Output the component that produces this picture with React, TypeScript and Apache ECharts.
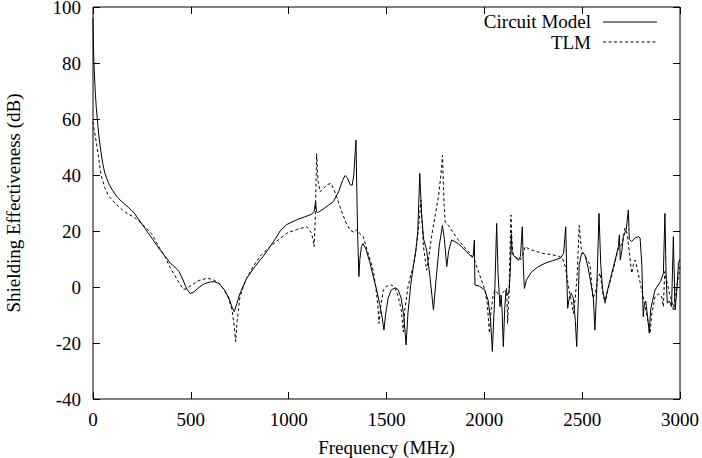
import React, { useEffect, useRef } from "react";
import * as echarts from "echarts";

// Shielding effectiveness (dB) vs frequency (MHz): [MHz, dB]
const circuitModel: [number, number][] = [
  [0, 96], [1, 91], [3, 84], [5, 80], [8, 75], [12, 69], [17, 64], [22, 60], [30, 54],
  [40, 48.5], [50, 44], [61, 40.5], [80, 37], [100, 34.5], [125, 32], [150, 30.3],
  [180, 28.5], [210, 26.5], [250, 22.5], [300, 17.5], [340, 13.5], [370, 10.8],
  [395, 8.5], [420, 7], [440, 5.5], [460, 2.5], [480, -0.8], [496, -2.3], [515, -1.8],
  [540, -0.2], [570, 1.2], [600, 1.8], [620, 1.9], [645, 1.2], [670, -0.8], [695, -4],
  [712, -7.5], [722, -8.8], [735, -6], [750, -2.5], [785, 3.1], [830, 7.5], [870, 11],
  [905, 14.4], [935, 17.5], [956, 20], [990, 22.3], [1041, 24], [1080, 25], [1118, 26],
  [1130, 27], [1138, 30.5], [1142, 27], [1147, 26.5], [1180, 28], [1228, 30.5],
  [1255, 34], [1275, 38], [1288, 39.8], [1300, 39], [1315, 36.5], [1325, 36.4],
  [1333, 40], [1344, 52.5], [1352, 20], [1359, 3.7], [1364, 10], [1372, 14.5],
  [1380, 15.5], [1395, 13.5], [1416, 8.5], [1435, 3], [1450, -1.1], [1465, -6],
  [1478, -11], [1487, -15.4], [1495, -10], [1508, -4], [1525, -1], [1545, -0.3],
  [1560, -1], [1575, -4], [1588, -10], [1600, -20.7], [1610, -9], [1625, 1.5],
  [1637, 7.3], [1650, 13], [1660, 20], [1670, 40.6], [1680, 25], [1690, 17],
  [1705, 13.2], [1720, 5], [1740, -8.2], [1755, 4], [1770, 15], [1786, 22], [1796, 17],
  [1808, 7.3], [1818, 13], [1833, 16.8], [1860, 15.8], [1884, 14.4], [1910, 12.5],
  [1935, 10.8], [1943, 11], [1949, 16.8], [1952, 0.7], [1975, 0.3], [2003, -1.1],
  [2020, -5], [2032, -12], [2041, -23], [2052, -5], [2063, 22.7], [2070, 5], [2080, -7],
  [2086, -3], [2091, -9], [2097, -21.3], [2104, -8], [2111, -1.1], [2118, -2.9],
  [2126, -2], [2133, 6], [2138, 19], [2142, 12], [2148, 11.4], [2160, 10.5],
  [2174, 9.6], [2185, 11], [2194, 21.5], [2200, 6], [2205, -0.5], [2215, 2.5],
  [2240, 5.3], [2270, 7], [2310, 8.5], [2350, 9.4], [2390, 10.4], [2405, 12],
  [2416, 21.5], [2422, 2], [2426, -7.6], [2435, -3.5], [2445, -2.3], [2455, -4],
  [2465, -12], [2472, -21.3], [2480, -5], [2485, 8], [2497, 12], [2506, 12],
  [2514, 11.5], [2530, 7], [2548, 0], [2557, -3.5], [2565, -15.4], [2575, 0],
  [2586, 26.3], [2595, 8], [2605, -1], [2617, -5.2], [2630, -1], [2651, 4.9],
  [2670, 10], [2685, 14.4], [2690, 18.6], [2695, 9.6], [2703, 13], [2710, 18],
  [2725, 20.4], [2736, 27.5], [2741, 17], [2753, 16.2], [2770, 17.5], [2787, 18],
  [2796, 17.5], [2805, 8], [2812, -10.6], [2818, -6], [2825, -5], [2835, -11],
  [2843, -16.5], [2850, -8], [2872, -1.1], [2900, 1.9], [2915, 4.9], [2923, 26.3],
  [2929, 4], [2935, -5.8], [2945, -5], [2957, -7], [2966, 18], [2972, 0], [2975, -8.2],
  [2985, 0], [2992, 8.5], [3000, 10],
];

const tlm: [number, number][] = [
  [0, 59], [5, 56.5], [15, 52.5], [25, 48], [41, 40], [60, 35.5], [80, 32.5],
  [112, 30], [150, 27.5], [180, 26], [210, 25], [250, 22.5], [300, 19], [340, 14],
  [368, 10.8], [390, 7.5], [415, 4.5], [440, 1.5], [461, -0.8], [475, -0.7], [500, 0.5],
  [540, 2.3], [581, 3.1], [610, 2.8], [640, 1.5], [665, -0.5], [690, -3.5], [710, -8],
  [722, -14], [729, -19.5], [737, -12], [750, -4], [770, 0.5], [785, 3.1], [820, 7.5],
  [860, 11.5], [905, 14.4], [950, 17], [990, 19.2], [1040, 20.5], [1092, 21.5],
  [1115, 19.5], [1125, 17], [1130, 14.4], [1136, 25], [1143, 47.7], [1150, 38],
  [1160, 34], [1175, 35], [1195, 36.5], [1216, 37], [1230, 35], [1245, 32.3],
  [1265, 28], [1290, 23.5], [1313, 20.4], [1335, 19.5], [1348, 20.5], [1357, 19.5],
  [1381, 18], [1400, 13.5], [1432, 6], [1445, 0], [1455, -6], [1462, -13], [1470, -7],
  [1484, -1.1], [1500, 0.3], [1527, 0.7], [1545, -0.5], [1560, -3.5], [1575, -8],
  [1586, -16], [1594, -8], [1610, 0], [1625, 4.5], [1637, 7.3], [1650, 13], [1662, 20],
  [1676, 31], [1688, 15], [1705, 6], [1715, 10], [1730, 18], [1750, 26], [1765, 32],
  [1778, 40], [1786, 47], [1794, 30], [1800, 23.3], [1816, 22], [1840, 19.5],
  [1867, 16.8], [1900, 14], [1927, 12], [1950, 9.5], [1975, 4.5], [2003, -1.1],
  [2015, -6], [2026, -16.5], [2035, -8], [2045, -3], [2055, -1.1], [2065, -2],
  [2078, -3.5], [2095, -2], [2114, -0.5], [2119, -13], [2126, -2], [2136, 25.7],
  [2142, 15], [2148, 11.4], [2165, 10.5], [2182, 9.6], [2195, 11], [2208, 14.4],
  [2230, 13.5], [2260, 12.8], [2300, 12], [2340, 11.6], [2380, 11], [2400, 10.2],
  [2415, 7], [2430, 0], [2445, -5], [2455, -9.4], [2465, -4], [2475, 5], [2485, 22],
  [2495, 14], [2506, 12], [2520, 10.5], [2540, 8], [2555, -4], [2568, -2], [2580, 3],
  [2592, 5], [2605, -2], [2617, -5.8], [2635, 0], [2655, 5], [2685, 14], [2700, 15],
  [2710, 17], [2718, 21], [2730, 19], [2745, 10], [2753, 4.9], [2762, 8], [2770, 9.6],
  [2780, 7], [2795, 2], [2812, -3.5], [2830, -10], [2847, -16.5], [2855, -10],
  [2872, -3.5], [2890, -2.5], [2905, -3], [2915, -7], [2922, 5.5], [2930, 3],
  [2945, -2], [2958, -5], [2966, -8.2], [2975, -3], [2990, 3], [3000, 7.3],
];

const seriesNames = ["Circuit Model", "TLM"];

const FONT = "Liberation Serif";
const FONT_SIZE = 19;
const DASH = [3, 2.5];

export default function App() {
  const ref = useRef<HTMLDivElement>(null);

  useEffect(() => {
    document.body.style.margin = "0";
    if (!ref.current) return;
    const chart = echarts.init(ref.current, undefined, { renderer: "svg" });

    const tickStyle = { inside: true, length: 7, lineStyle: { color: "#000", width: 1 } };
    const labelStyle = { color: "#000", fontFamily: FONT, fontSize: FONT_SIZE };
    const plain = (v: number) => String(v);

    // key in the upper-right corner: right-aligned names with line samples
    const keyText = (name: string, y: number) => ({
      type: "text",
      x: 591,
      y,
      style: {
        text: name,
        fill: "#000",
        fontFamily: FONT,
        fontSize: FONT_SIZE,
        align: "right",
        verticalAlign: "middle",
      },
    });
    const keyLine = (y: number, dashed: boolean) => ({
      type: "line",
      shape: { x1: 603, y1: y, x2: 657, y2: y },
      style: { stroke: "#000", lineWidth: 1, lineDash: dashed ? DASH : null },
    });

    chart.setOption({
      animation: false,
      backgroundColor: "#fff",
      textStyle: { fontFamily: FONT },
      grid: {
        left: 93,
        right: 22,
        top: 7,
        bottom: 59,
        outerBoundsMode: "none",
        containLabel: false,
        show: true,
        borderColor: "#000",
        borderWidth: 1,
        backgroundColor: "transparent",
      },
      graphic: [
        keyText(seriesNames[0], 21),
        keyLine(22, false),
        keyText(seriesNames[1], 42),
        keyLine(42, true),
      ],
      xAxis: [
        {
          type: "value",
          min: 0,
          max: 3000,
          interval: 500,
          position: "bottom",
          axisLine: { show: false, onZero: false },
          axisTick: tickStyle,
          splitLine: { show: false },
          axisLabel: { ...labelStyle, margin: 11, formatter: plain },
          name: "Frequency (MHz)",
          nameLocation: "middle",
          nameGap: 39,
          nameTextStyle: labelStyle,
        },
        {
          type: "value",
          min: 0,
          max: 3000,
          interval: 500,
          position: "top",
          axisLine: { show: false, onZero: false },
          axisTick: tickStyle,
          splitLine: { show: false },
          axisLabel: { show: false },
        },
      ],
      yAxis: [
        {
          type: "value",
          min: -40,
          max: 100,
          interval: 20,
          position: "left",
          axisLine: { show: false, onZero: false },
          axisTick: tickStyle,
          splitLine: { show: false },
          axisLabel: { ...labelStyle, lineHeight: 14, margin: 12, formatter: plain },
          name: "Shielding Effectiveness (dB)",
          nameLocation: "middle",
          nameGap: 70,
          nameTextStyle: labelStyle,
        },
        {
          type: "value",
          min: -40,
          max: 100,
          interval: 20,
          position: "right",
          axisLine: { show: false, onZero: false },
          axisTick: tickStyle,
          splitLine: { show: false },
          axisLabel: { show: false },
        },
      ],
      series: [
        {
          name: seriesNames[0],
          type: "line",
          xAxisIndex: 0,
          yAxisIndex: 0,
          data: circuitModel,
          symbol: "none",
          showSymbol: false,
          lineStyle: { color: "#000", width: 1, type: "solid" },
          itemStyle: { color: "#000" },
        },
        {
          name: seriesNames[1],
          type: "line",
          xAxisIndex: 0,
          yAxisIndex: 0,
          data: tlm,
          symbol: "none",
          showSymbol: false,
          lineStyle: { color: "#000", width: 1, type: DASH },
          itemStyle: { color: "#000" },
        },
      ],
    });

    return () => chart.dispose();
  }, []);

  return <div ref={ref} style={{ width: 702, height: 458 }} />;
}
